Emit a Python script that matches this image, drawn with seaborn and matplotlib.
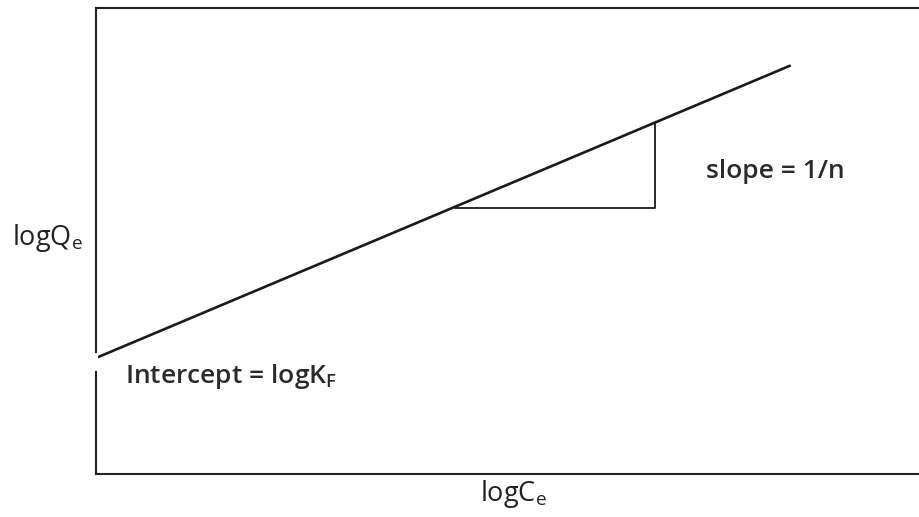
import numpy as np
import pandas as pd
import matplotlib
matplotlib.use("Agg")
import matplotlib.pyplot as plt
import seaborn as sns

# Freundlich isotherm sketch (arbitrary units, axis 0-100)
line_x = [0.0, 84.2]
line_y = [24.9, 87.6]
tri_x = [43.6, 67.8, 67.8]
tri_y = [57.1, 57.1, 75.4]

sns.set_style("white")
plt.rcParams['font.family'] = ['Open Sans', 'DejaVu Sans']

fig = plt.figure(figsize=(9.2, 5.17), dpi=100)
ax = fig.add_axes([96 / 920, 1 - 474 / 517, 1 - 96 / 920, (474 - 8) / 517])

df_line = pd.DataFrame({"x": line_x, "y": line_y})
df_tri = pd.DataFrame({"x": tri_x, "y": tri_y})
sns.lineplot(data=df_line, x="x", y="y", ax=ax, color="#1a1a1a", linewidth=1.9,
             sort=False, estimator=None)
sns.lineplot(data=df_tri, x="x", y="y", ax=ax, color="#1a1a1a", linewidth=1.3,
             sort=False, estimator=None)

ax.set_xlim(0, 100)
ax.set_ylim(0, 100)
ax.set_xticks([])
ax.set_yticks([])
ax.set_xlabel("")
ax.set_ylabel("")
for s in ["left", "top", "bottom"]:
    ax.spines[s].set_color("#222222")
    ax.spines[s].set_linewidth(1.5)
ax.spines["right"].set_visible(False)
# small break in the left axis where the line meets it
ax.plot([0, 0], [22.5, 25.5], color="white", linewidth=3, clip_on=False, zorder=3)

fig.text(12 / 920, 1 - 238 / 517, r"logQ$_\mathregular{e}$", fontsize=19.5,
         va="center", ha="left", color="#222222")
fig.text(480 / 920, 1 - 494 / 517, r"logC$_\mathregular{e}$", fontsize=19.5,
         va="center", ha="left", color="#222222")
ax.text(74.0, 65.0, "slope = 1/n", fontsize=19, fontweight="semibold",
        va="center", ha="left", color="#2a2a2a")
ax.text(3.5, 21, r"Intercept = logK$_\mathregular{F}$", fontsize=19,
        fontweight="semibold", va="center", ha="left", color="#2a2a2a")

fig.savefig("out.png", dpi=100, facecolor="white")
